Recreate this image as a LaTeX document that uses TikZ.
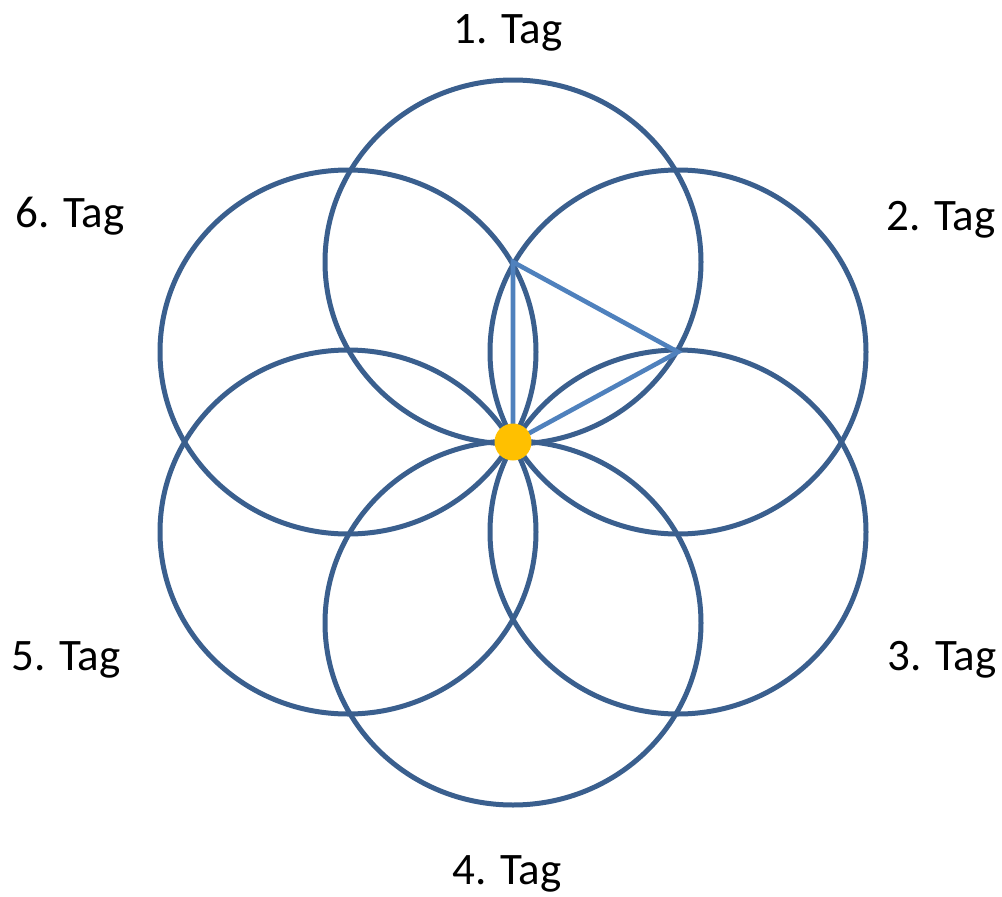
\documentclass[tikz,border=0pt]{standalone}
\usepackage{fontspec}
\setmainfont{Carlito}
\usetikzlibrary{calc}
\begin{document}
\begin{tikzpicture}[x=1pt,y=-1pt,
  ring/.style={draw=ringblue,line width=5pt},
  tri/.style={draw=triblue,line width=4.6pt,line join=miter},
  daylabel/.style={font=\fontsize{45}{54}\selectfont,anchor=base,inner sep=0pt}]
\definecolor{ringblue}{HTML}{3A5F8E}
\definecolor{triblue}{HTML}{4F81BD}
\definecolor{dotorange}{HTML}{FFC000}
\useasboundingbox (0,0) rectangle (1002,897);
\coordinate (O) at (513,442);
\foreach \n/\dx/\dy in {c1/0/-180,c2/165/-90,c3/165/90,c4/0/181,c5/-165/90,c6/-165/-90}{
  \coordinate (\n) at ($(O)+(\dx,\dy)$);
  \draw[ring] (\n) ellipse [x radius=188, y radius=182];
}
\draw[tri] (O) -- (c1) -- (c2) -- cycle;
\node[circle,fill=dotorange,minimum size=37pt,inner sep=0pt] (dot) at (O) {};
\node[daylabel] (l1) at (508,43) {1. Tag};
\node[daylabel] (l2) at (941,230) {2. Tag};
\node[daylabel] (l3) at (942,670) {3. Tag};
\node[daylabel] (l4) at (507,884) {4. Tag};
\node[daylabel] (l5) at (66,670) {5. Tag};
\node[daylabel] (l6) at (70,227) {6. Tag};
\end{tikzpicture}
\end{document}
